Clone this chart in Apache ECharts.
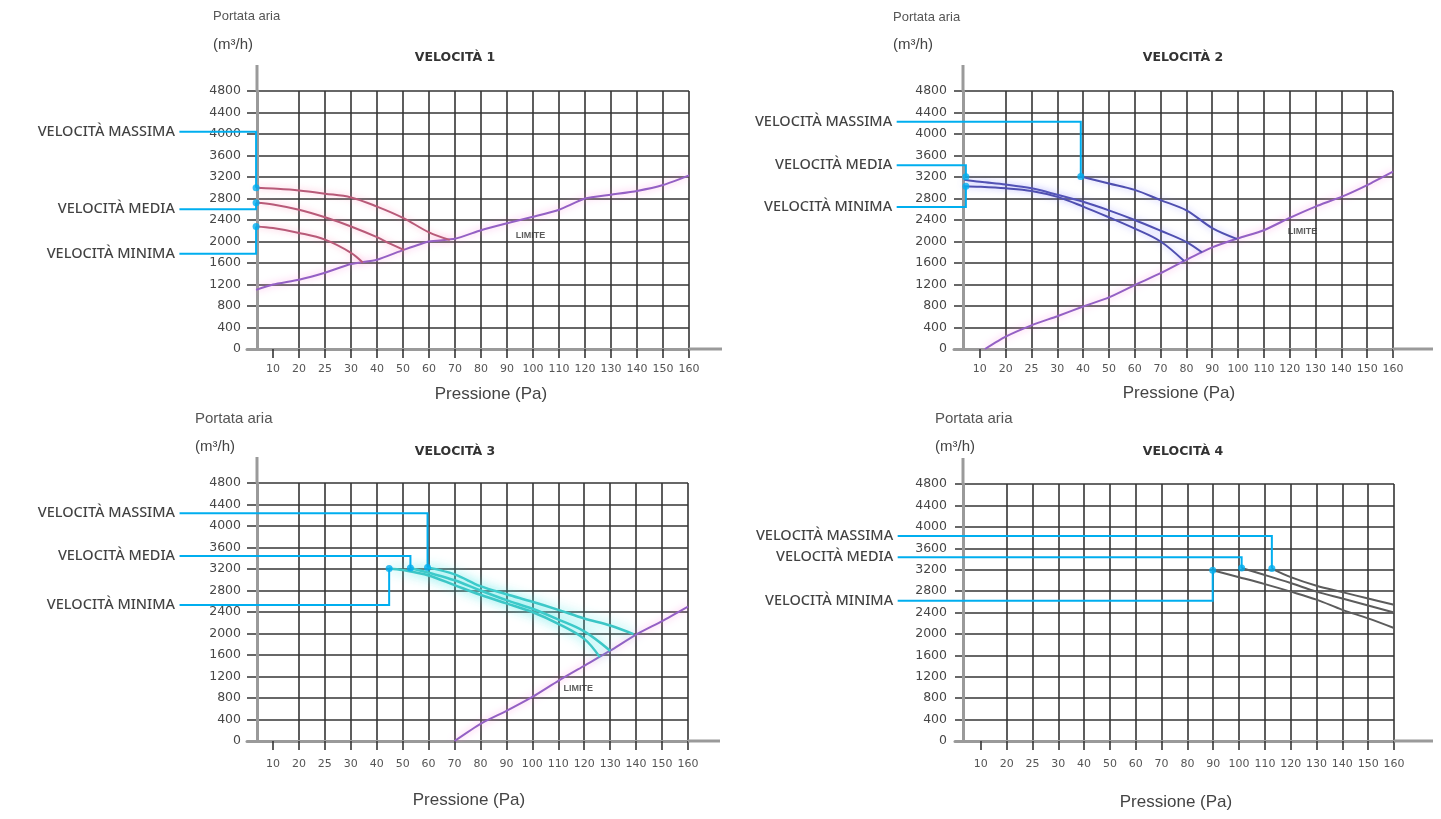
<!DOCTYPE html>
<html>
<head>
<meta charset="utf-8">
<script src="https://cdn.jsdelivr.net/npm/echarts@6/dist/echarts.min.js"></script>
<style>html,body{margin:0;padding:0;background:#fff}#c{width:1441px;height:819px}</style>
</head>
<body>
<div id="c"></div>
<script>
// ---------- DATA ----------
// x values are positions on the (non-uniform) pressure tick scale: 0 -> "10", 1 -> "20", ... 16 -> "160"
const pressureLabels = ['10','20','25','30','40','50','60','70','80','90','100','110','120','130','140','150','160'];
const flowMin = 0, flowMax = 4800, flowStep = 400;
const panelTitles = ['VELOCITÀ 1','VELOCITÀ 2','VELOCITÀ 3','VELOCITÀ 4'];
const speedNames = ['VELOCITÀ MASSIMA','VELOCITÀ MEDIA','VELOCITÀ MINIMA'];

// Velocità 1
const v1Max = [[-0.65,3000],[0,2985],[1,2950],[2,2890],[3,2820],[4,2650],[5,2440],[6,2170],[6.8,2030]];
const v1Med = [[-0.65,2720],[0,2690],[1,2590],[2,2450],[3,2280],[4,2080],[4.5,1960],[5.05,1840]];
const v1Min = [[-0.65,2280],[0,2250],[1,2160],[2,2035],[3,1790],[3.45,1610]];
const v1Limit = [[-0.65,1100],[0,1200],[1,1290],[2,1420],[3,1580],[4,1660],[5,1840],[6,2000],[7,2050],[8,2210],[9,2340],[10,2460],[11,2590],[12,2800],[13,2870],[14,2940],[15,3050],[16,3230]];
// Velocità 2
const v2Max = [[3.9,3210],[5,3080],[6,2960],[7,2770],[8,2580],[9,2250],[9.95,2050]];
const v2Med = [[-0.6,3150],[0,3110],[1,3060],[2,2990],[3,2870],[4,2740],[5,2580],[6,2400],[7,2200],[8,1990],[8.6,1800]];
const v2Min = [[-0.6,3030],[0,3020],[1,2990],[2,2940],[3,2830],[4,2650],[5,2450],[6,2240],[7,2000],[7.9,1640]];
const v2Limit = [[0.2,0],[1,230],[2,440],[3,610],[4,790],[5,960],[6,1190],[7,1410],[8,1660],[9,1890],[10,2060],[11,2210],[12,2440],[13,2650],[14,2830],[15,3050],[16,3300]];
// Velocità 3
const v3Max = [[5.96,3230],[7,3100],[8,2880],[9,2730],[10,2590],[11,2440],[12,2280],[13,2150],[13.9,1990]];
const v3Med = [[5.3,3220],[6,3130],[7,2990],[8,2800],[9,2620],[10,2460],[11,2260],[12,2040],[13,1680]];
const v3Min = [[4.48,3210],[5,3180],[6,3080],[7,2900],[8,2720],[9,2560],[10,2400],[11,2180],[12,1900],[12.6,1560]];
const v3Limit = [[7,0],[8,320],[9,560],[10,820],[11,1120],[12,1400],[13,1680],[14,1980],[15,2230],[16,2500]];
// Velocità 4
const v4Max = [[11.27,3220],[12,3060],[13,2900],[14,2780],[15,2660],[16,2545]];
const v4Med = [[10.1,3230],[11,3100],[12,2950],[13,2790],[14,2660],[15,2530],[16,2400]];
const v4Min = [[8.98,3190],[10,3060],[11,2930],[12,2790],[13,2640],[14,2450],[15,2290],[16,2110]];

// "LIMITE" label anchor (tick position, flow)
const limitLabels = [[9.9,2120],[12.5,2180],[11.77,980],null];

// Callouts: [dot x, dot flow, leader flow level] for MASSIMA, MEDIA, MINIMA
const callouts1 = [[-0.65,3000,4040],[-0.65,2720,2600],[-0.65,2280,1770]];
const callouts2 = [[3.91,3210,4230],[-0.54,3205,3420],[-0.54,3030,2640]];
const callouts3 = [[5.96,3230,4235],[5.3,3220,3440],[4.48,3210,2530]];
const callouts4 = [[11.27,3220,3830],[10.1,3230,3430],[8.98,3190,2620]];

// ---------- LAYOUT / STYLE ----------
const grids = [
  {left:247, right:752, top:91, bottom:470},
  {left:954, right:48,  top:91, bottom:470},
  {left:247, right:753, top:483, bottom:78},
  {left:955, right:47,  top:484, bottom:78}
];
const yOffsets = [-10,-9,-10,-8];
const axisExt = [33,40,32,39];
const calloutTextX = [-3.6,-3.22,-3.6,-3.22];
const styles = [
  {curve:'#b85a78', glow:'rgba(255,120,170,0.55)', w:2, blur:6},
  {curve:'#4f4fb0', glow:'rgba(130,130,255,0.6)', w:2, blur:7},
  {curve:'#3cc6c6', glow:'rgba(70,230,230,0.9)', w:2.5, blur:12},
  {curve:'#5c5c5c', glow:'rgba(0,0,0,0)', w:2, blur:0}
];
const limitStyle = {color:'#9460c4', glow:'rgba(255,130,220,0.65)'};
const gridColor = '#353535';
const axisColor = '#9a9a9a';
const calloutColor = '#00aeef';

const curves = [[v1Max,v1Med,v1Min],[v2Max,v2Med,v2Min],[v3Max,v3Med,v3Min],[v4Max,v4Med,v4Min]];
const limits = [v1Limit,v2Limit,v3Limit,null];
const callouts = [callouts1,callouts2,callouts3,callouts4];

const ticks = pressureLabels.map((_, i) => i);
const xAxes = [], yAxes = [], series = [];

for (let k = 0; k < 4; k++) {
  xAxes.push({
    gridIndex:k, type:'value', min:-1, max:pressureLabels.length-1, interval:1,
    axisLine:{show:true, onZero:false, lineStyle:{color:axisColor, width:3},
      symbol:['none','rect'], symbolSize:[3, axisExt[k]], symbolOffset:[0, axisExt[k]/2]},
    axisTick:{show:true, length:9, customValues:ticks, lineStyle:{color:gridColor, width:1.6}},
    splitLine:{show:true, showMinLine:false, lineStyle:{color:gridColor, width:1.6}},
    axisLabel:{show:true, customValues:ticks, hideOverlap:false, margin:k<2?15:18,
      fontFamily:'DejaVu Sans', fontSize:11, color:'#555',
      formatter:v => (v >= 0 && pressureLabels[Math.round(v)] !== undefined) ? pressureLabels[Math.round(v)] : ''}
  });
  yAxes.push({
    gridIndex:k, type:'value', min:flowMin, max:flowMax, interval:flowStep, offset:yOffsets[k],
    axisLine:{show:true, onZero:false, lineStyle:{color:axisColor, width:3},
      symbol:['none','rect'], symbolSize:[3,26], symbolOffset:[0,13]},
    axisTick:{show:false},
    splitLine:{show:true, lineStyle:{color:gridColor, width:1.6}},
    axisLabel:{show:true, margin:16, fontFamily:'DejaVu Sans', fontSize:12.5, color:'#474747',
      hideOverlap:false, formatter:v => String(v)}
  });

  const st = styles[k];
  curves[k].forEach((d) => {
    series.push({
      type:'line', xAxisIndex:k, yAxisIndex:k, data:d, smooth:0.35, symbol:'none', z:5,
      lineStyle:{color:st.curve, width:st.w, shadowColor:st.glow, shadowBlur:st.blur}
    });
  });
  if (limits[k]) {
    series.push({
      type:'line', xAxisIndex:k, yAxisIndex:k, data:limits[k], smooth:0.2, symbol:'none', z:4,
      lineStyle:{color:limitStyle.color, width:2, shadowColor:limitStyle.glow, shadowBlur:7}
    });
  }
  if (limitLabels[k]) {
    series.push({
      type:'scatter', xAxisIndex:k, yAxisIndex:k, data:[limitLabels[k]], symbolSize:1,
      itemStyle:{color:'rgba(0,0,0,0)'}, z:6,
      label:{show:true, position:'inside', formatter:'LIMITE', fontFamily:'Liberation Sans',
        fontWeight:'bold', fontSize:9, color:'#333'}
    });
  }
  // callout leader lines (polyline in data coordinates, allowed to leave the grid)
  series.push({
    type:'lines', coordinateSystem:'cartesian2d', xAxisIndex:k, yAxisIndex:k,
    polyline:true, clip:false, z:8, silent:true,
    lineStyle:{color:calloutColor, width:2, opacity:1},
    data:callouts[k].map(c => ({coords:[[calloutTextX[k], c[2]],[c[0], c[2]],[c[0], c[1]]]}))
  });
  series.push({
    type:'scatter', xAxisIndex:k, yAxisIndex:k, clip:false, z:9, symbolSize:7,
    itemStyle:{color:calloutColor},
    data:callouts[k].map(c => [c[0], c[1]])
  });
  series.push({
    type:'scatter', xAxisIndex:k, yAxisIndex:k, clip:false, z:9, symbolSize:1,
    itemStyle:{color:'rgba(0,0,0,0)'},
    label:{show:true, position:'left', distance:4, formatter:'{b}',
      fontFamily:'Noto Sans', fontWeight:500, fontSize:14.5, color:'#111'},
    data:callouts[k].map((c, j) => ({name:speedNames[j], value:[calloutTextX[k], c[2]]}))
  });
}

// free texts (axis names and panel titles)
const textPos = [
  {pa:[213,10,13], mh:[213,37], vt:[455,51], pr:[491,386]},
  {pa:[893,11,13], mh:[893,37], vt:[1183,51], pr:[1179,385]},
  {pa:[195,411,15], mh:[195,439], vt:[455,445], pr:[469,792]},
  {pa:[935,411,15], mh:[935,439], vt:[1183,445], pr:[1176,794]}
];
const titles = [];
textPos.forEach((p, k) => {
  titles.push({text:'Portata aria', left:p.pa[0], top:p.pa[1], padding:0,
    textStyle:{fontFamily:'Liberation Sans', fontWeight:'normal', fontSize:p.pa[2], color:'#555'}});
  titles.push({text:'(m³/h)', left:p.mh[0], top:p.mh[1], padding:0,
    textStyle:{fontFamily:'Liberation Sans', fontWeight:'normal', fontSize:15, color:'#444'}});
  titles.push({text:panelTitles[k], left:p.vt[0], top:p.vt[1], padding:0, textAlign:'center',
    textStyle:{fontFamily:'DejaVu Sans', fontWeight:'bold', fontSize:12.5, color:'#333'}});
  titles.push({text:'Pressione (Pa)', left:p.pr[0], top:p.pr[1], padding:0, textAlign:'center',
    textStyle:{fontFamily:'Liberation Sans', fontWeight:'normal', fontSize:17, color:'#444'}});
});

const chart = echarts.init(document.getElementById('c'), null, {renderer:'canvas'});
chart.setOption({
  backgroundColor:'#ffffff',
  animation:false,
  title:titles,
  grid:grids.map(g => Object.assign({containLabel:false, show:false}, g)),
  xAxis:xAxes,
  yAxis:yAxes,
  series:series
});
</script>
</body>
</html>
